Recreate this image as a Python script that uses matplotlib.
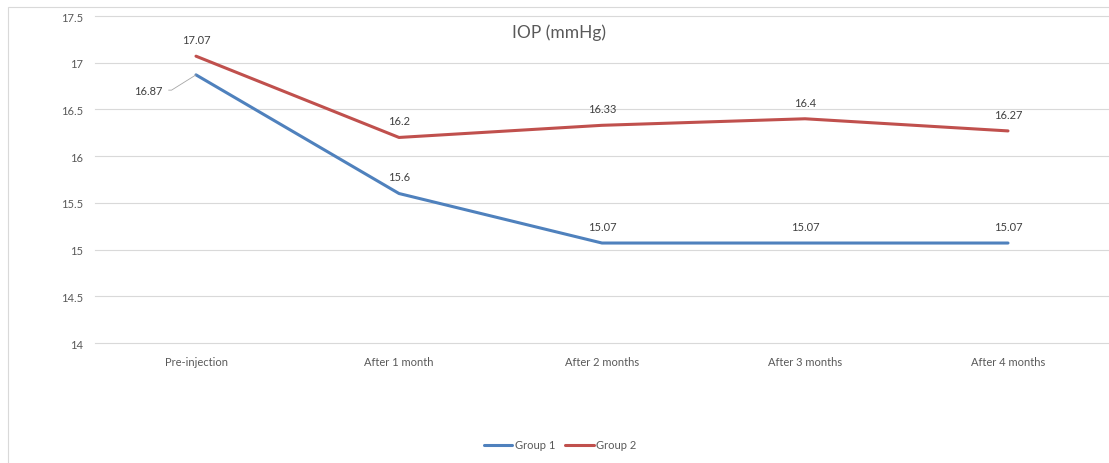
import matplotlib
matplotlib.use("Agg")
import matplotlib.pyplot as plt
from matplotlib.patches import Rectangle

plt.rcParams['font.family'] = ['Lato', 'DejaVu Sans']

categories = ["Pre-injection", "After 1 month", "After 2 months", "After 3 months", "After 4 months"]
group1 = [16.87, 15.6, 15.07, 15.07, 15.07]
group2 = [17.07, 16.2, 16.33, 16.4, 16.27]
yticks = [14, 14.5, 15, 15.5, 16, 16.5, 17, 17.5]
ytick_labels = ["14", "14.5", "15", "15.5", "16", "16.5", "17", "17.5"]

W, H = 1109, 464
fig = plt.figure(figsize=(W / 100, H / 100), dpi=100)
fig.patch.set_facecolor("white")

# chart frame
fig.patches.append(Rectangle((8 / W, -0.1), 1.2, 1 - 8 / H + 0.1, transform=fig.transFigure,
                             fill=False, edgecolor="#D9D9D9", linewidth=0.8))

ax = fig.add_axes([94.5 / W, 1 - 344 / H, 1015 / W, (344 - 17) / H])
x = list(range(len(categories)))
blue = "#4F81BD"
red = "#C0504D"
ax.plot(x, group1, color=blue, linewidth=2.2, label="Group 1", solid_capstyle="round", zorder=3)
ax.plot(x, group2, color=red, linewidth=2.2, label="Group 2", solid_capstyle="round", zorder=3)

ax.set_xlim(-0.5, len(categories) - 0.5)
ax.set_ylim(14, 17.5)
ax.set_yticks(yticks)
ax.set_yticklabels(ytick_labels)
ax.set_xticks(x)
ax.set_xticklabels(categories)
ax.tick_params(axis="both", length=0, labelsize=8, labelcolor="#595959")
ax.tick_params(axis="y", pad=8)
ax.tick_params(axis="x", pad=9)
ax.grid(axis="y", color="#D9D9D9", linewidth=0.8)
for gl in ax.get_ygridlines():
    gl.set_clip_on(False)
ax.set_axisbelow(True)
for s in ax.spines.values():
    s.set_visible(False)

lab_kw = dict(fontsize=8, color="#404040", ha="center", va="center")
for i, v in enumerate(group2):
    ax.annotate(f"{v:g}", (i, v), xytext=(0, 12), textcoords="offset points", **lab_kw)
for i, v in enumerate(group1):
    if i == 0:
        ax.annotate(f"{v:g}", (i, v), xytext=(-34, -11), textcoords="offset points",
                    arrowprops=dict(arrowstyle="-", color="#A6A6A6", linewidth=0.6,
                                    connectionstyle="angle,angleA=0,angleB=32,rad=0",
                                    shrinkA=2, shrinkB=0, relpos=(1.0, 0.5)),
                    **lab_kw)
    else:
        ax.annotate(f"{v:g}", (i, v), xytext=(0, 12), textcoords="offset points", **lab_kw)

fig.text(559 / W, 1 - 33 / H, "IOP (mmHg)", fontsize=12.5, color="#595959", ha="center", va="center")

fig.legend(loc="center", bbox_to_anchor=(560 / W, 1 - 446 / H), ncol=2, frameon=False,
           fontsize=8, labelcolor="#595959", handlelength=2.6, handletextpad=0.2,
           columnspacing=0.9)

fig.savefig("out.png", dpi=100, facecolor="white")
